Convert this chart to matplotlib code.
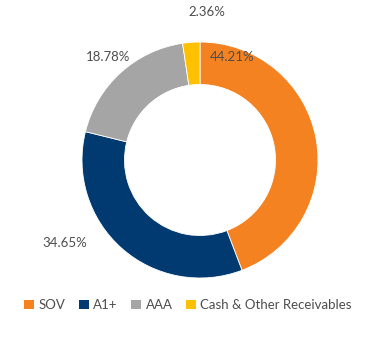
import matplotlib.pyplot as plt
from matplotlib.patches import Patch

# Asset allocation by rating
categories = ['SOV', 'A1+', 'AAA', 'Cash & Other Receivables']
shares = [44.21, 34.65, 18.78, 2.36]
colors = ['#F58220', '#003A70', '#A5A5A5', '#FFC000']
# where each percentage sits, relative to the ring centre (pixels)
label_offsets = [(32, 103), (-135, -83), (-92, 103), (7, 148)]

plt.rcParams['font.family'] = ['Lato', 'DejaVu Sans']

fig = plt.figure(figsize=(3.69, 3.42), dpi=100)
ax = fig.add_axes([0, 0, 1, 1])

cx, cy, r = 200, 182, 118
ax.pie(shares, colors=colors, startangle=90, counterclock=False,
       center=(cx, cy), radius=r, frame=True,
       wedgeprops=dict(width=r * 0.36, linewidth=0.6, edgecolor='white'))
ax.set_xlim(0, 369)
ax.set_ylim(0, 342)
ax.set_aspect('equal')
ax.axis('off')

for val, (dx, dy) in zip(shares, label_offsets):
    ax.text(cx + dx, cy + dy, f'{val:.2f}%', ha='center', va='center',
            fontsize=9.5, color='#4d4d4d', zorder=5)

handles = [Patch(facecolor=c, edgecolor='none') for c in colors]
fig.legend(handles, categories, loc='center', bbox_to_anchor=(188 / 369, 1 - 305 / 342),
           ncol=4, frameon=False, fontsize=9.5, labelcolor='#4d4d4d',
           handlelength=0.75, handleheight=0.75, handletextpad=0.35,
           columnspacing=1.0)

fig.savefig('out.png', dpi=100)
